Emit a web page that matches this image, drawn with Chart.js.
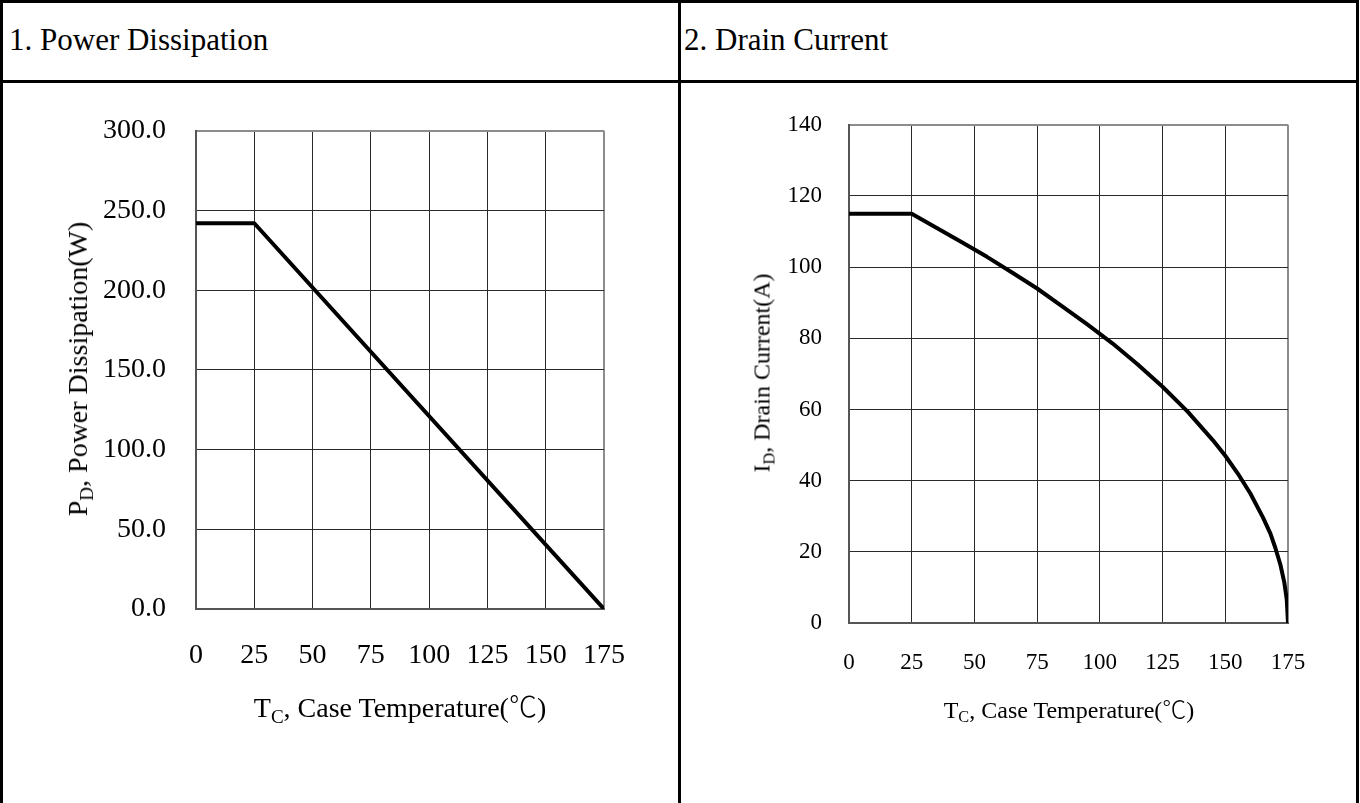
<!DOCTYPE html>
<html>
<head>
<meta charset="utf-8">
<script src="https://cdn.jsdelivr.net/npm/chart.js@4.4.1/dist/chart.umd.min.js"></script>
<style>
  html, body { margin: 0; padding: 0; background: #fff; }
  #page { position: relative; width: 1360px; height: 803px; overflow: hidden; font-family: "Liberation Serif", "Times New Roman", serif; color: #000; }
  .rule { position: absolute; background: #000; }
  .head { position: absolute; top: 22px; font-size: 31px; line-height: 36px; white-space: nowrap; }
  .box { position: absolute; top: 84px; height: 719px; }
  .lbl { position: absolute; white-space: nowrap; transform: translate(-50%, -50%); }
  .lbl.rot { transform: translate(-50%, -50%) rotate(-90deg); }
  .lbl sub { font-size: 0.68em; vertical-align: -0.3em; line-height: 0; }
  .deg { font-family: "Noto Sans CJK JP", "Noto Sans CJK SC", serif; font-weight: 300; }
  .big { font-size: 28px; }
  .small { font-size: 24px; }
</style>
</head>
<body>
<div id="page">
  <div class="rule" style="left:0;top:0;width:1359px;height:3px"></div>
  <div class="rule" style="left:0;top:80px;width:1359px;height:3px"></div>
  <div class="rule" style="left:0;top:0;width:3px;height:803px"></div>
  <div class="rule" style="left:678px;top:0;width:3px;height:803px"></div>
  <div class="rule" style="left:1356px;top:0;width:3px;height:803px"></div>

  <div class="head" style="left:9px">1. Power Dissipation</div>
  <div class="head" style="left:684px">2. Drain Current</div>

  <div class="box" style="left:4px;width:674px"><canvas id="chartPower"></canvas></div>
  <div class="box" style="left:682px;width:673px"><canvas id="chartCurrent"></canvas></div>

  <div class="lbl big" style="left:400px;top:705px">T<sub>C</sub>, Case Temperature(<span class="deg">℃</span>)</div>
  <div class="lbl big rot" style="left:78px;top:369px">P<sub>D</sub>, Power Dissipation(W)</div>
  <div class="lbl small" style="left:1069px;top:707px">T<sub>C</sub>, Case Temperature(<span class="deg">℃</span>)</div>
  <div class="lbl small rot" style="left:762px;top:373px">I<sub>D</sub>, Drain Current(A)</div>
</div>

<script>
// values
const powerTemps = [0, 25, 175];
const powerValues = [242, 242, 0];

const currentTemps = [0, 25, 35, 45, 55, 65, 75, 85, 95, 105, 115, 125, 135, 145, 150, 155, 160, 165, 168, 170, 172, 173.5, 174.5, 175];
const currentValues = [115, 115, 111, 107, 102.9, 98.5, 94, 89, 83.9, 78.6, 72.7, 66.4, 59.4, 51.4, 47, 42, 36.4, 29.7, 25.1, 21, 16.3, 11.5, 6.6, 0];

const tempTicks = [0, 25, 50, 75, 100, 125, 150, 175];

const SERIF = '"Liberation Serif", "Times New Roman", serif';

function toPoints(xs, ys) {
  return xs.map((x, i) => ({ x: x, y: ys[i] }));
}

function gridStyle(max) {
  return {
    drawTicks: false,
    color: ctx => (ctx.tick && ctx.tick.value === max) ? '#8c8c8c' : '#2a2a2a',
    lineWidth: ctx => (ctx.tick && ctx.tick.value === max) ? 2 : 1
  };
}

function makeChart(id, opts) {
  const ctx = document.getElementById(id).getContext('2d');
  return new Chart(ctx, {
    type: 'line',
    data: {
      datasets: [{
        data: toPoints(opts.xs, opts.ys),
        borderColor: '#000',
        borderWidth: 4,
        borderJoinStyle: 'round',
        pointRadius: 0,
        fill: false,
        tension: 0
      }]
    },
    options: {
      responsive: true,
      maintainAspectRatio: false,
      animation: false,
      events: [],
      layout: { padding: opts.padding },
      plugins: { legend: { display: false }, tooltip: { enabled: false } },
      scales: {
        x: {
          type: 'linear',
          min: 0,
          max: 175,
          afterBuildTicks: axis => { axis.ticks = tempTicks.map(v => ({ value: v })); },
          afterFit: axis => { axis.height = 60; },
          grid: gridStyle(175),
          border: { color: '#555', width: 2 },
          ticks: { color: '#000', padding: opts.xPad, font: { family: SERIF, size: opts.fontSize } }
        },
        y: {
          min: 0,
          max: opts.yMax,
          afterFit: axis => { axis.width = opts.yWidth; },
          grid: gridStyle(opts.yMax),
          border: { color: '#555', width: 2 },
          ticks: {
            color: '#000',
            stepSize: opts.yStep,
            padding: opts.yPad,
            font: { family: SERIF, size: opts.fontSize },
            callback: opts.yFormat
          }
        }
      }
    }
  });
}

makeChart('chartPower', {
  xs: powerTemps, ys: powerValues,
  yMax: 300, yStep: 50, yFormat: v => v.toFixed(1),
  fontSize: 28, xPad: 30, yPad: 30, yWidth: 110,
  padding: { left: 82, top: 46, right: 74, bottom: 134 }
});

makeChart('chartCurrent', {
  xs: currentTemps, ys: currentValues,
  yMax: 140, yStep: 20, yFormat: v => String(v),
  fontSize: 23, xPad: 26, yPad: 27, yWidth: 100,
  padding: { left: 67, top: 39, right: 67, bottom: 120 }
});
</script>
</body>
</html>
